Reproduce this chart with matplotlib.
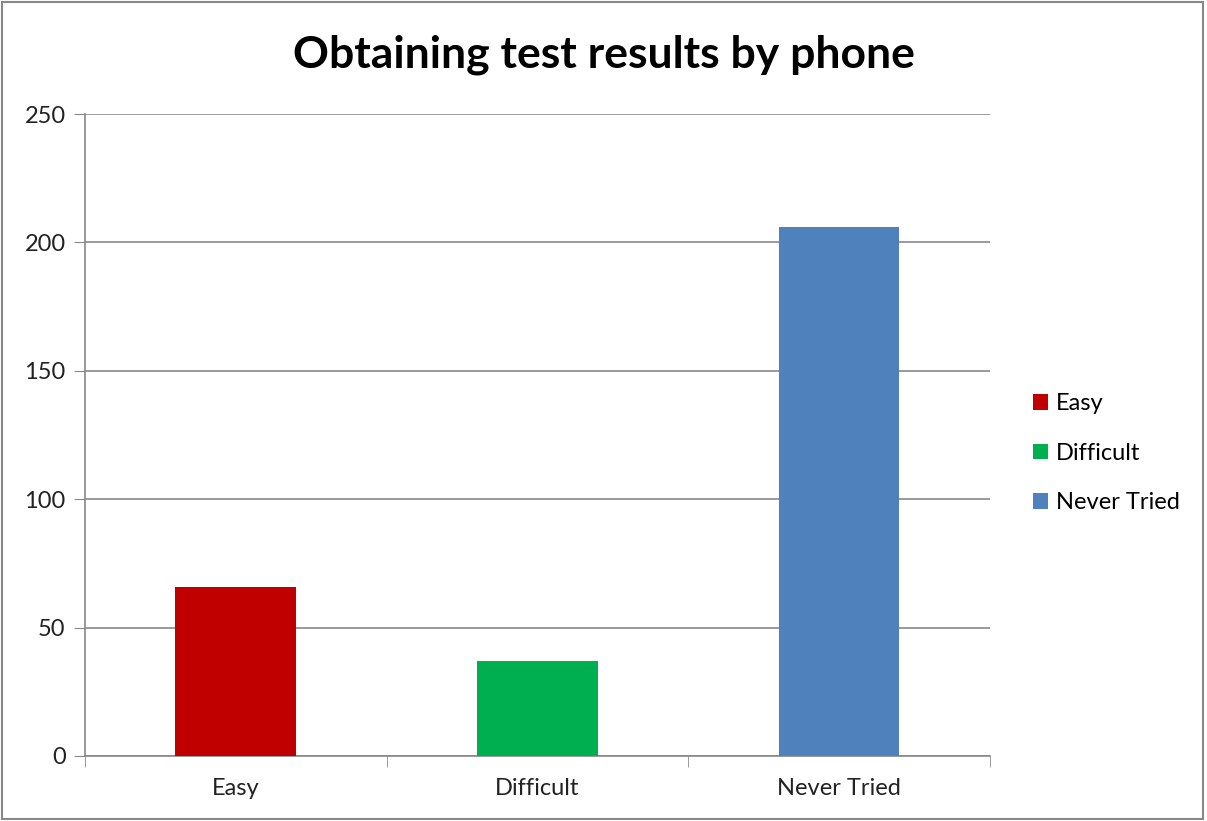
import matplotlib
matplotlib.use('Agg')
import matplotlib.pyplot as plt
from matplotlib.patches import Patch, Rectangle

plt.rcParams['font.family'] = ['Lato', 'DejaVu Sans']

# data
categories = ['Easy', 'Difficult', 'Never Tried']
values = [66, 37, 206]
colors = ['#C00000', '#00B050', '#4F81BD']
yticks = [0, 50, 100, 150, 200, 250]

fig = plt.figure(figsize=(12.07, 8.21), dpi=100)
ax = fig.add_axes([0.0704, 0.0792, 0.7496, 0.7818])

x = list(range(len(categories)))
ax.bar(x, values, width=0.4, color=colors, zorder=3)

ax.set_xlim(-0.5, len(categories) - 0.5)
ax.set_ylim(0, 250)
ax.set_yticks(yticks)
ax.set_xticks(x)
ax.set_xticklabels(categories, fontsize=17, color='#222222')
ax.tick_params(axis='x', length=0, pad=16)
ax.tick_params(axis='y', length=8, color='#888888', labelsize=17, labelcolor='#222222', pad=6)
# category boundary ticks
ax.set_xticks([i - 0.5 for i in range(len(categories) + 1)], minor=True)
ax.tick_params(axis='x', which='minor', length=8, color='#888888', direction='out')

ax.yaxis.grid(True, color='#888888', linewidth=1.2, zorder=0)
for s in ['top', 'right']:
    ax.spines[s].set_visible(False)
ax.spines['left'].set_color('#888888')
ax.spines['bottom'].set_color('#888888')
ax.spines['left'].set_linewidth(1.2)
ax.spines['bottom'].set_linewidth(1.2)

fig.text(0.5, 0.933, 'Obtaining test results by phone', ha='center', va='center',
         fontsize=32, fontweight='bold', color='black')

handles = [Patch(facecolor=c, label=l) for c, l in zip(colors, categories)]
fig.legend(handles=handles, loc='center left', bbox_to_anchor=(0.838, 0.448),
           frameon=False, fontsize=17, handlelength=0.65, handleheight=0.65,
           handletextpad=0.35, labelspacing=1.2)

fig.patches.append(Rectangle((0.002, 0.003), 0.995, 0.994, transform=fig.transFigure,
                             fill=False, edgecolor='#888888', linewidth=1.5))

fig.savefig('out.png', dpi=100)
